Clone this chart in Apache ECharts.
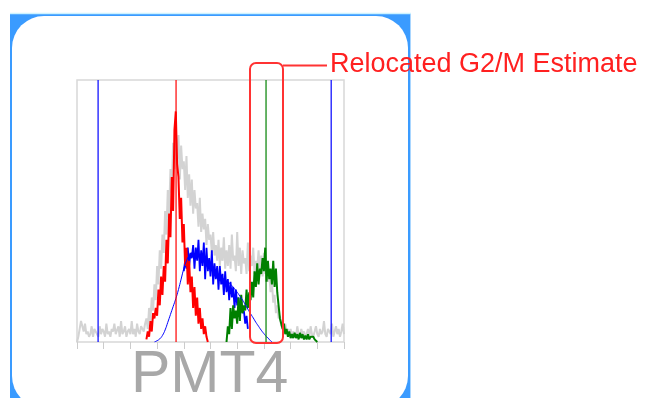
<!DOCTYPE html>
<html>
<head>
<meta charset="utf-8">
<script src="https://cdn.jsdelivr.net/npm/echarts@6/dist/echarts.min.js"></script>
<style>
  html, body { margin: 0; padding: 0; background: #fff; }
  #chart { width: 649px; height: 398px; }
</style>
</head>
<body>
<div id="chart"></div>
<script>
// histogram bins, step 0.5 on a 0-100 PMT4 scale
var binStep = 0.5

var grayStart = 0
var grayCounts = [
  0, 2, 5, 8, 6, 4, 7, 3, 4, 2, 3, 6, 2, 5, 4, 3, 2, 6, 3, 5, 4, 2, 7, 3, 4, 2, 5, 4, 7, 3, 3, 6, 2, 8, 3, 4, 6, 2, 4, 5, 3, 8, 3, 5, 2, 7, 4, 3, 6, 5, 4,
  7, 9, 5, 13, 8, 17, 12, 22, 16, 29, 22, 35, 28, 41, 34, 50, 41, 58, 49, 66, 57, 76, 66, 80,
  70, 79, 62, 75, 66, 69, 58, 71, 55, 64, 52, 62, 49, 58, 51, 53, 44, 55, 42, 49, 43, 47, 37, 45, 39, 41, 34, 42, 33, 37, 31, 39, 29, 36, 31, 40, 28, 35, 29, 37,
  28, 41, 31, 33, 27, 42, 29, 36, 26, 35, 30, 32, 26, 38, 27, 33, 29, 36, 26, 31, 28, 35, 27, 33, 25, 34, 26, 29, 23, 26,
  19, 23, 15, 18, 11, 14, 9, 10, 6, 8, 5, 7, 4, 5, 3, 5,
  2, 4, 3, 2, 6, 3, 2, 5, 3, 4, 2, 3, 5, 2, 6, 3, 2, 4, 6, 3, 2, 5, 3, 4, 8, 3, 2, 5, 4, 3, 7, 2, 4, 6, 3, 5, 2, 4, 7, 3
]

var redStart = 26
var redCounts = [
  1, 4, 2, 8, 4, 11, 9, 13, 10, 20,
  14, 25, 18, 29, 23, 39, 30, 49, 40, 63,
  50, 81, 88, 68, 63, 47, 55, 38, 45, 29,
  36, 22, 31, 19, 25, 13, 21, 10, 17, 7,
  13, 5, 9, 3, 6, 2, 0
]

var blueStart = 40
var blueCounts = [
  27, 31, 28, 36, 29, 34, 32, 37, 28, 36,
  31, 39, 27, 35, 29, 38, 24, 36, 27, 32,
  25, 35, 22, 30, 24, 29, 20, 29, 22, 26,
  18, 27, 19, 24, 16, 23, 17, 21, 13, 20,
  14, 17, 10, 16, 11, 12, 7, 10, 5
]

var greenStart = 56
var greenCounts = [
  0, 6, 3, 13, 5, 14, 9, 12, 7, 17,
  8, 18, 11, 14, 12, 20, 13, 19, 16, 23,
  17, 27, 21, 30, 22, 28, 26, 32, 27, 36,
  23, 31, 24, 28, 22, 31, 21, 28, 19, 14,
  9, 7, 5, 7, 3, 5, 2, 4, 1.5, 3,
  1.5, 3.5, 1.5, 3, 1, 3.5, 1.5, 3, 1, 2.5,
  1, 3, 1, 2, 1.5, 2, 1, 1.5, 0
]

// fitted S-phase model curve, step 1
var fitStart = 29
var fitValues = [
  0, 0.5, 1.2, 2.5, 4.6, 7.5, 10.5, 13.5, 16.5, 20,
  24, 28, 31, 33, 34, 33.8, 33, 32, 31, 30,
  28.5, 27.5, 26.8, 26, 25.5, 24.8, 24, 23.3, 22.5, 21.5,
  20.3, 19, 17.5, 16, 14.3, 12.5, 10.8, 9.2, 7.5, 6,
  4.5, 3.2, 2, 1, 0
]

// gate / peak markers
var gateLines = [7.9, 95.2]
var g1Peak = 37.1
var g2Peak = 70.8
var axisTicks = [0, 10, 20, 30, 40, 50, 60, 70, 80, 90, 100]
var xLabel = 'PMT4'
var noteText = 'Relocated G2/M Estimate'

function toPoints(start, step, vals) {
  return vals.map(function (v, i) { return [start + i * step, v] })
}

// vertical marker drawn as a two-point line series spanning the y range
function vLine(x, color) {
  return {
    type: 'line', symbol: 'none', z: 6, silent: true,
    data: [[x, 0], [x, 100]],
    lineStyle: { color: color, width: 1.2 },
    itemStyle: { color: color }
  }
}

var chart = echarts.init(document.getElementById('chart'))

var option = {
  animation: false,
  grid: {
    left: 77, right: 305, top: 80, bottom: 56,
    show: true,
    backgroundColor: 'transparent',
    borderColor: '#d8d8d8',
    borderWidth: 1.5
  },
  xAxis: {
    type: 'value',
    min: axisTicks[0],
    max: axisTicks[axisTicks.length - 1],
    interval: 10,
    axisLine: { show: false },
    axisTick: { show: true, length: 7, lineStyle: { color: '#cccccc', width: 1 } },
    axisLabel: { show: false },
    splitLine: { show: false }
  },
  yAxis: {
    type: 'value',
    min: 0,
    max: 100,
    show: false
  },
  graphic: [
    { type: 'rect', z: -20, silent: true, shape: { x: 10, y: 14, width: 401, height: 400 }, style: { fill: '#3a9bff' } },
    { type: 'line', z: -19, silent: true, shape: { x1: 10, y1: 13.5, x2: 411, y2: 13.5 }, style: { stroke: '#cdf3ff', lineWidth: 1.5 } },
    { type: 'line', z: -19, silent: true, shape: { x1: 410.5, y1: 14, x2: 410.5, y2: 398 }, style: { stroke: '#a9d6ff', lineWidth: 1 } },
    { type: 'rect', z: -18, silent: true, shape: { x: 12, y: 16, width: 396, height: 392, r: 32 }, style: { fill: '#ffffff' } },
    {
      type: 'text', z: 5, silent: true, left: 131, top: 346,
      style: { text: xLabel, fill: '#a8a8a8', font: '59px "Liberation Sans", Arial, sans-serif' }
    },
    { type: 'rect', z: 100, silent: true, shape: { x: 250, y: 63, width: 33, height: 280, r: 6 }, style: { fill: 'none', stroke: '#ff3333', lineWidth: 2 } },
    { type: 'line', z: 100, silent: true, shape: { x1: 283, y1: 65.5, x2: 327, y2: 65.5 }, style: { stroke: '#ff3333', lineWidth: 2 } },
    {
      type: 'text', z: 100, silent: true, left: 330, top: 51,
      style: { text: noteText, fill: '#ff2020', font: '27px "Liberation Sans", Arial, sans-serif' }
    }
  ],
  series: [
    {
      name: 'all', type: 'line', symbol: 'none', z: 2,
      data: toPoints(grayStart, binStep, grayCounts),
      lineStyle: { color: '#d3d3d3', width: 2 }
    },
    {
      name: 'S', type: 'line', symbol: 'none', z: 3,
      data: toPoints(blueStart, binStep, blueCounts),
      lineStyle: { color: '#0000ff', width: 1.8 }
    },
    {
      name: 'G1', type: 'line', symbol: 'none', z: 4,
      data: toPoints(redStart, binStep, redCounts),
      lineStyle: { color: '#ff0000', width: 2 }
    },
    {
      name: 'G2', type: 'line', symbol: 'none', z: 4,
      data: toPoints(greenStart, binStep, greenCounts),
      lineStyle: { color: '#008000', width: 2 }
    },
    {
      name: 'fit', type: 'line', symbol: 'none', z: 5, smooth: true,
      data: toPoints(fitStart, 1, fitValues),
      lineStyle: { color: '#0000ff', width: 1 }
    },
    vLine(gateLines[0], '#0000ff'),
    vLine(gateLines[1], '#0000ff'),
    vLine(g1Peak, '#ff0000'),
    vLine(g2Peak, '#008000')
  ]
}

chart.setOption(option)
</script>
</body>
</html>
